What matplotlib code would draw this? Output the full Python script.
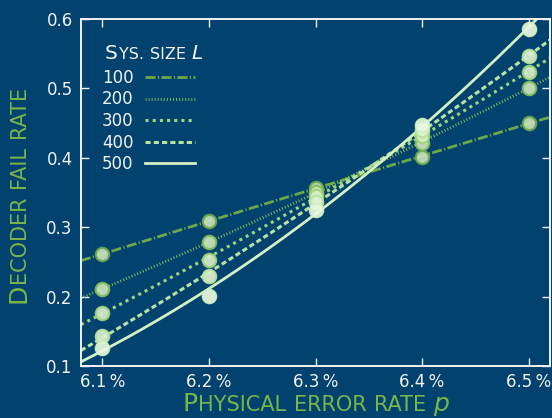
import numpy as np
import matplotlib
matplotlib.use("Agg")
import matplotlib.pyplot as plt
from matplotlib.ticker import FixedLocator, FixedFormatter

# Physical error rate (in %) and decoder failure rate for each system size L
error_rate = [6.1, 6.2, 6.3, 6.4, 6.5]
sizes = [100, 200, 300, 400, 500]
fail_100 = [0.261, 0.309, 0.357, 0.401, 0.450]
fail_200 = [0.211, 0.278, 0.351, 0.421, 0.501]
fail_300 = [0.177, 0.253, 0.345, 0.432, 0.524]
fail_400 = [0.143, 0.229, 0.337, 0.440, 0.546]
fail_500 = [0.126, 0.201, 0.325, 0.447, 0.586]

x_ticks = [6.1, 6.2, 6.3, 6.4, 6.5]
x_tick_labels = ["6.1\u2009%", "6.2\u2009%", "6.3\u2009%", "6.4\u2009%", "6.5\u2009%"]
y_ticks = [0.1, 0.2, 0.3, 0.4, 0.5, 0.6]
y_tick_labels = ["0.1", "0.2", "0.3", "0.4", "0.5", "0.6"]

BG = "#02426f"
LABEL_GREEN = "#78b64a"
WHITE = "#f2f2f2"

line_colors = ["#6ba94a", "#84bf5c", "#9fd47a", "#b9e3a0", "#d5f1c3"]
face_colors = ["#c9dfba", "#cde4bd", "#d7eec8", "#dff1d2", "#eaf8e1"]
line_widths = [2.0, 2.0, 2.2, 2.2, 2.0]
line_styles = [
    (0, (3.6, 0.85, 0.45, 0.85)),
    (0, (0.35, 0.75)),
    (0, (1.0, 1.35)),
    (0, (1.7, 1.0)),
    "-",
]

W, H, DPI = 552, 418, 100
fig = plt.figure(figsize=(W / DPI, H / DPI), dpi=DPI, facecolor=BG)
ax = fig.add_axes([81 / W, 1 - 366 / H, (550 - 81) / W, (366 - 19) / H], facecolor=BG)

xlim = (6.08, 6.52)
ax.set_xlim(*xlim)
ax.set_ylim(0.1, 0.6)

series = [fail_100, fail_200, fail_300, fail_400, fail_500]
p_fine = np.linspace(xlim[0], xlim[1], 300)
for i, (L, vals) in enumerate(zip(sizes, series)):
    coeffs = np.polyfit(error_rate, vals, 2)
    ax.plot(p_fine, np.polyval(coeffs, p_fine), color=line_colors[i], lw=line_widths[i],
            linestyle=line_styles[i], label=str(L), zorder=2 + i * 0.1,
            dash_capstyle="butt")
for i, vals in enumerate(series):
    ax.plot(error_rate, vals, linestyle="none", marker="o", markersize=9.6,
            markerfacecolor=face_colors[i], markeredgecolor=line_colors[i],
            markeredgewidth=1.6, alpha=0.92, zorder=5 + i * 0.1, clip_on=False)

ax.xaxis.set_major_locator(FixedLocator(x_ticks))
ax.xaxis.set_major_formatter(FixedFormatter(x_tick_labels))
ax.yaxis.set_major_locator(FixedLocator(y_ticks))
ax.yaxis.set_major_formatter(FixedFormatter(y_tick_labels))
ax.tick_params(direction="in", length=5.8, width=1.0, color=WHITE, labelcolor=WHITE,
               labelsize=12, top=True, right=True)
ax.tick_params(axis="x", pad=5)
ax.tick_params(axis="y", pad=6)
for s in ax.spines.values():
    s.set_color(WHITE)
    s.set_linewidth(1.4)

leg = ax.legend(loc="upper left", bbox_to_anchor=(102 / W, 1 - 69 / H),
                bbox_transform=fig.transFigure, frameon=False, markerfirst=False,
                fontsize=12, handlelength=3.0, handletextpad=0.7, labelspacing=0.21,
                borderpad=0, borderaxespad=0)
for t in leg.get_texts():
    t.set_color(WHITE)

renderer = fig.canvas.get_renderer()


def small_caps(pieces, x_px, y_px, color, rotation=0, align="center"):
    """Draw text made of pieces (text, size, style); a None text is a word gap."""
    items = []
    total = 0.0
    for text, size, style in pieces:
        if text is None:
            w = 0.318 * size * DPI / 72.0
            items.append((None, w))
        else:
            t = fig.text(0, 0, text, fontsize=size, style=style, color=color,
                         rotation=rotation, rotation_mode="anchor",
                         ha="left", va="baseline")
            bb = t.get_window_extent(renderer)
            w = (bb.height if rotation == 90 else bb.width) + 0.8
            items.append((t, w))
        total += w
    start = -total / 2 if align == "center" else 0.0
    pos = start
    for t, w in items:
        if t is not None:
            if rotation == 90:
                t.set_position((x_px / W, 1 - (y_px - pos) / H))
            else:
                t.set_position(((x_px + pos) / W, 1 - y_px / H))
        pos += w


BIG, SMALL = 18, 15
small_caps([("P", BIG, "normal"), ("HYSICAL", SMALL, "normal"), (None, SMALL, "normal"),
            ("ERROR", SMALL, "normal"), (None, SMALL, "normal"), ("RATE", SMALL, "normal"),
            (None, SMALL, "normal"), ("p", BIG, "italic")],
           316, 411, LABEL_GREEN)

small_caps([("D", BIG, "normal"), ("ECODER", SMALL, "normal"), (None, SMALL, "normal"),
            ("FAIL", SMALL, "normal"), (None, SMALL, "normal"), ("RATE", SMALL, "normal")],
           25, 194, LABEL_GREEN, rotation=90)

small_caps([("S", 14.5, "normal"), ("YS.", 11.5, "normal"), (None, 11.5, "normal"),
            ("SIZE", 11.5, "normal"), (None, 11.5, "normal"), ("L", 14.5, "italic")],
           105, 59, WHITE, align="left")

fig.savefig("out.png", dpi=DPI, facecolor=BG)
